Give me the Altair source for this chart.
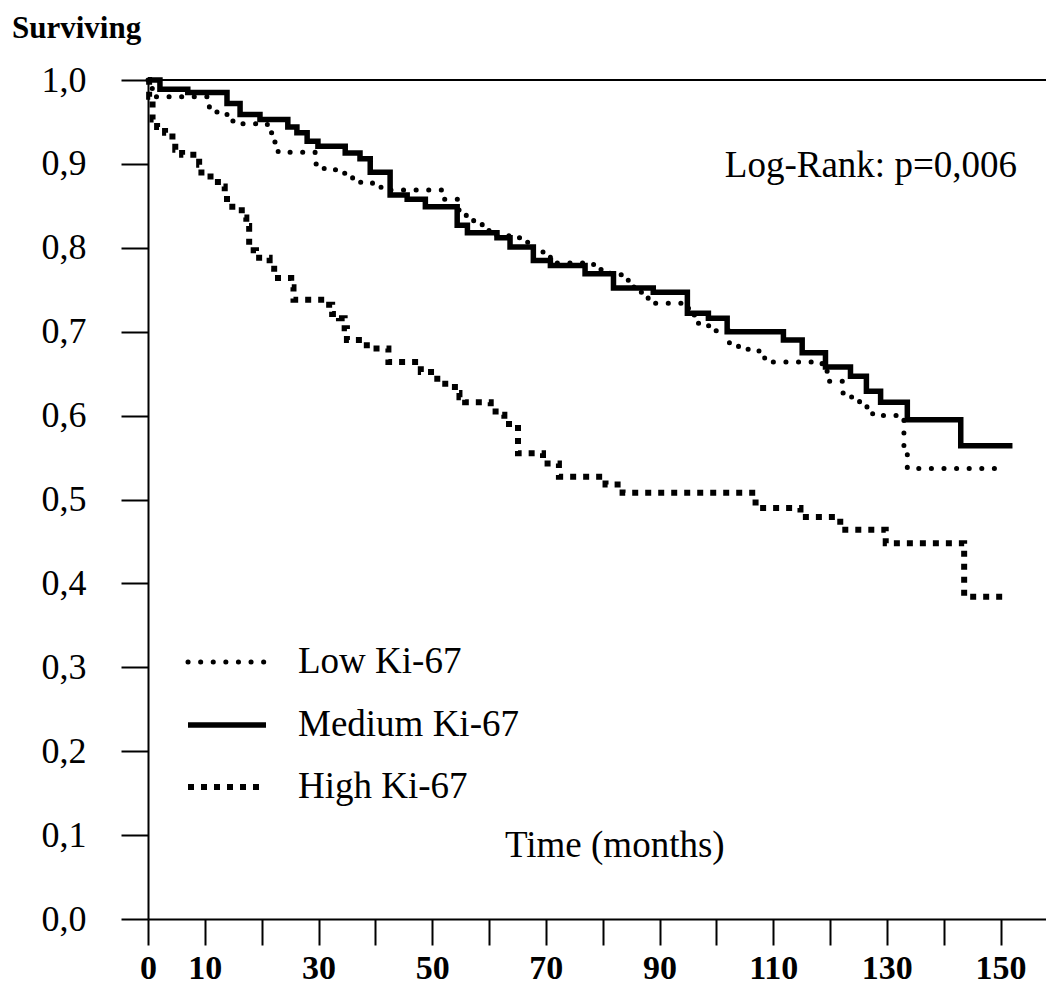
import altair as alt
import pandas as pd

# ---- data (months, survival fraction) ----
low_t = [0, 0.5, 1.2, 10.8, 12.5, 13.9, 15.5, 21.0, 22.0, 22.9, 29.4, 31.0, 33.0,
         36.0, 39.5, 41.0, 52.0, 54.5, 56.0, 57.3, 58.8, 60.0, 63.5, 66.8, 67.8,
         69.5, 70.8, 78.4, 81.3, 84.5, 85.5, 87.0, 88.0, 94.5, 95.5, 96.7, 98.2,
         99.8, 102.3, 103.9, 107.5, 108.5, 118.6, 119.6, 122.2, 123.8, 125.2, 126.5,
         127.5, 133.0, 133.6, 149.5]
low_s = [1.0, 0.990, 0.980, 0.962, 0.959, 0.951, 0.948, 0.937, 0.926, 0.914, 0.900, 0.893, 0.889,
         0.878, 0.874, 0.869, 0.858, 0.845, 0.837, 0.829, 0.822, 0.815, 0.812, 0.801, 0.797,
         0.789, 0.782, 0.774, 0.768, 0.758, 0.747, 0.743, 0.734, 0.728, 0.720, 0.710, 0.707,
         0.701, 0.685, 0.679, 0.675, 0.664, 0.653, 0.641, 0.627, 0.622, 0.616, 0.609,
         0.600, 0.560, 0.537, 0.537]

med_t = [0, 2.1, 7.0, 13.9, 16.2, 19.7, 24.6, 26.2, 28.0, 29.9, 34.7, 37.3, 39.1, 42.6,
         45.6, 48.8, 54.4, 56.2, 61.4, 63.7, 67.8, 70.8, 76.9, 81.9, 88.9, 94.9, 98.6,
         101.9, 111.8, 115.1, 119.2, 123.6, 126.4, 128.9, 133.6, 143.0, 152.1]
med_s = [1.0, 0.989, 0.985, 0.972, 0.959, 0.953, 0.944, 0.937, 0.927, 0.921, 0.913, 0.906, 0.890, 0.863,
         0.858, 0.849, 0.827, 0.818, 0.812, 0.801, 0.785, 0.779, 0.769, 0.752, 0.747, 0.722, 0.716,
         0.700, 0.690, 0.675, 0.658, 0.647, 0.629, 0.616, 0.595, 0.564, 0.564]

high_t = [0, 0.2, 0.8, 1.6, 3.0, 4.3, 4.8, 6.0, 9.0, 9.4, 12.3, 13.5, 13.9, 16.5, 17.3, 17.8,
          19.0, 21.4, 22.2, 25.2, 25.6, 31.2, 32.4, 33.6, 34.6, 35.0, 38.5, 42.3, 48.0, 50.9,
          52.3, 54.0, 54.8, 55.8, 60.3, 61.7, 62.7, 65.1, 69.5, 72.3, 80.5, 83.5, 106.9, 114.8,
          121.8, 129.8, 143.6, 150.5]
high_s = [1.0, 0.980, 0.953, 0.944, 0.937, 0.925, 0.917, 0.911, 0.899, 0.885, 0.873, 0.863, 0.849, 0.836, 0.826, 0.797,
          0.788, 0.775, 0.764, 0.753, 0.738, 0.732, 0.721, 0.716, 0.704, 0.690, 0.680, 0.664, 0.652, 0.638,
          0.634, 0.627, 0.622, 0.616, 0.605, 0.601, 0.590, 0.555, 0.543, 0.527, 0.518, 0.508, 0.490, 0.479,
          0.464, 0.448, 0.384, 0.384]

group_labels = ["Low Ki-67", "Medium Ki-67", "High Ki-67"]
x_tick_values = [0, 10, 20, 30, 40, 50, 60, 70, 80, 90, 100, 110, 120, 130, 140, 150]
x_labelled = [0, 10, 30, 50, 70, 90, 110, 130, 150]
y_tick_values = [0.0, 0.1, 0.2, 0.3, 0.4, 0.5, 0.6, 0.7, 0.8, 0.9, 1.0]
y_title = "Surviving"
x_title = "Time (months)"
test_text = "Log-Rank: p=0,006"

SERIF = "Liberation Serif"
TXT = 37

x_axis = alt.Axis(
    values=x_tick_values,
    labelExpr="indexof([" + ",".join(str(v) for v in x_labelled) + "], datum.value) >= 0 ? datum.label : ''",
    title=None, grid=False, tickSize=26, tickWidth=2, domainWidth=2,
    domainColor="black", tickColor="black", labelColor="black",
    labelFont=SERIF, labelFontSize=34, labelFontWeight="bold",
    labelBaseline="alphabetic", labelPadding=33, labelFlush=False, labelOverlap=False,
)
y_axis = alt.Axis(
    values=y_tick_values,
    labelExpr="replace(format(datum.value, '.1f'), '.', ',')",
    title=None, grid=False, tickSize=27, tickWidth=2, domainWidth=2,
    domainColor="black", tickColor="black", labelColor="black",
    labelFont=SERIF, labelFontSize=36, labelPadding=35, labelFlush=False, labelOverlap=False,
)
x_scale = alt.Scale(domain=[0, 158], nice=False, zero=False)
y_scale = alt.Scale(domain=[0, 1], nice=False)


def enc():
    return dict(
        x=alt.X("t:Q", scale=x_scale, axis=x_axis),
        y=alt.Y("s:Q", scale=y_scale, axis=y_axis),
    )


low_df = pd.DataFrame({"t": low_t, "s": low_s})
med_df = pd.DataFrame({"t": med_t, "s": med_s})
high_df = pd.DataFrame({"t": high_t, "s": high_s})

low_style = dict(strokeDash=[0.1, 12.5], strokeCap="round", strokeWidth=5)
med_style = dict(strokeWidth=5.5, strokeCap="butt")
high_style = dict(strokeDash=[6, 7], strokeCap="butt", strokeWidth=6)

high_line = alt.Chart(high_df).mark_line(interpolate="step-after", color="black", strokeJoin="miter", **high_style).encode(**enc())
low_line = alt.Chart(low_df).mark_line(interpolate="step-after", color="black", **low_style).encode(**enc())
med_line = alt.Chart(med_df).mark_line(interpolate="step-after", color="black", strokeJoin="miter", **med_style).encode(**enc())

top_rule = alt.Chart(pd.DataFrame({"s": [1.0]})).mark_rule(color="black", strokeWidth=2).encode(
    y=alt.Y("s:Q", scale=y_scale, axis=y_axis))

one = pd.DataFrame({"k": [0]})

# legend (drawn inside the plot area)
leg_rows = [582, 645, 707]
leg_styles = [low_style, med_style, high_style]
legend_layers = []
for lab, yy, sty in zip(group_labels, leg_rows, leg_styles):
    legend_layers.append(
        alt.Chart(one).mark_rule(color="black", **sty).encode(
            x=alt.value(40), x2=alt.value(118), y=alt.value(yy))
    )
    legend_layers.append(
        alt.Chart(pd.DataFrame({"label": [lab]})).mark_text(
            font=SERIF, fontSize=TXT, align="left", baseline="middle", color="black").encode(
            x=alt.value(150), y=alt.value(yy), text="label:N")
    )

logrank = alt.Chart(pd.DataFrame({"label": [test_text]})).mark_text(
    font=SERIF, fontSize=TXT, align="right", baseline="middle", color="black").encode(
    x=alt.value(869), y=alt.value(86), text="label:N")

xtitle = alt.Chart(pd.DataFrame({"label": [x_title]})).mark_text(
    font=SERIF, fontSize=TXT, align="left", baseline="middle", color="black").encode(
    x=alt.value(357), y=alt.value(766), text="label:N")

ytitle = alt.Chart(pd.DataFrame({"label": [y_title]})).mark_text(
    font=SERIF, fontSize=31, fontWeight="bold", align="left", baseline="middle", color="black").encode(
    x=alt.value(-136), y=alt.value(-51), text="label:N")

chart = alt.layer(
    top_rule, high_line, low_line, med_line, *legend_layers, logrank, xtitle, ytitle
).properties(
    width=898, height=839,
    autosize=alt.AutoSizeParams(type="none"),
    padding={"left": 140, "top": 72, "right": 0, "bottom": 67},
    background="white",
).configure_view(strokeWidth=0)

chart.save("out.html", embed_options={"renderer": "svg", "actions": False})
